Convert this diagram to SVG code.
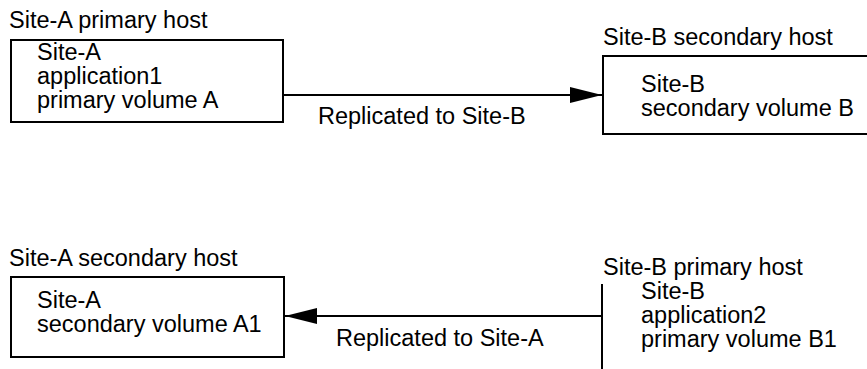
<svg xmlns="http://www.w3.org/2000/svg" width="867" height="369" viewBox="0 0 867 369">
<defs>
<style>
text{font-family:"Liberation Sans",Arial,Helvetica,sans-serif;font-size:23.5px;fill:#000}
.box{fill:#fff;stroke:#000;stroke-width:2}
.conn{stroke:#000;stroke-width:2;fill:none}
</style>
<marker id="ah" markerWidth="32" markerHeight="16" refX="32" refY="8" orient="auto" markerUnits="userSpaceOnUse">
<path d="M0,0 L32,8 L0,16 Z" fill="#000"/>
</marker>
</defs>
<rect width="867" height="369" fill="#fff"/>
<g id="connectors">
<line class="conn" x1="283" y1="95" x2="602" y2="95" marker-end="url(#ah)"/>
<text x="318" y="124">Replicated to Site-B</text>
<line class="conn" x1="602" y1="316" x2="285" y2="316" marker-end="url(#ah)"/>
<text x="336" y="346">Replicated to Site-A</text>
</g>
<g id="siteA-primary">
<text x="9" y="28">Site-A primary host</text>
<rect class="box" x="11" y="40" width="272" height="82"/>
<text x="37" y="60">Site-A</text>
<text x="37" y="84">application1</text>
<text x="37" y="108">primary volume A</text>
</g>
<g id="siteB-secondary">
<text x="603" y="45">Site-B secondary host</text>
<rect class="box" x="603" y="56" width="280" height="78"/>
<text x="641" y="92">Site-B</text>
<text x="641" y="116">secondary volume B</text>
</g>
<g id="siteA-secondary">
<text x="9" y="266">Site-A secondary host</text>
<rect class="box" x="11" y="277" width="273" height="80"/>
<text x="37" y="308">Site-A</text>
<text x="37" y="332">secondary volume A1</text>
</g>
<g id="siteB-primary">
<text x="603" y="275">Site-B primary host</text>
<line class="conn" x1="602" y1="284" x2="602" y2="369"/>
<text x="641" y="299">Site-B</text>
<text x="641" y="323">application2</text>
<text x="641" y="347">primary volume B1</text>
</g>
</svg>
